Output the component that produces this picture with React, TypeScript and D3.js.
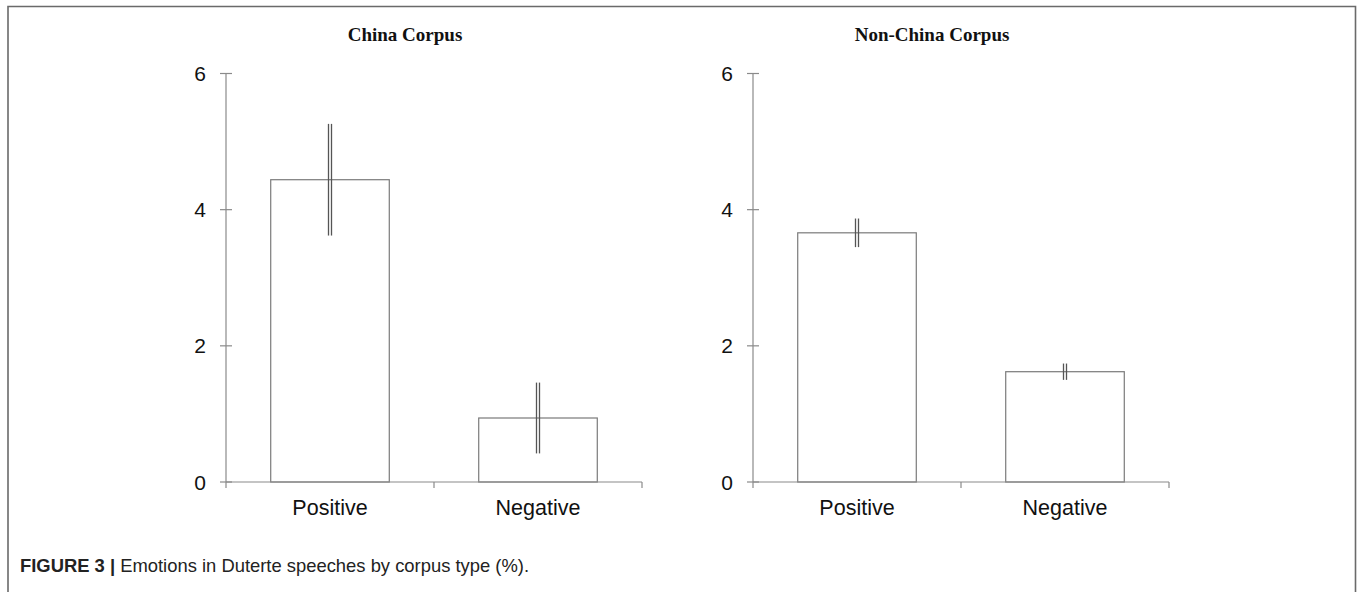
import React from "react";
import * as d3 from "d3";

const panelTitles = ["China Corpus", "Non-China Corpus"];
const categories = ["Positive", "Negative"];
const chinaValues = [4.44, 0.94];
const chinaErrors = [0.82, 0.52];
const nonChinaValues = [3.66, 1.62];
const nonChinaErrors = [0.21, 0.12];
const yTicks = [0, 2, 4, 6];
const captionBold = "FIGURE 3 |";
const captionText = " Emotions in Duterte speeches by corpus type (%).";

const panels = [
  { title: panelTitles[0], values: chinaValues, errors: chinaErrors, x0: 226 },
  { title: panelTitles[1], values: nonChinaValues, errors: nonChinaErrors, x0: 753 },
];

const W = 1360;
const H = 592;
const plotW = 416;
const yTop = 73.5;
const yBottom = 482;

function Panel({ p }: { p: typeof panels[0] }) {
  const x = d3
    .scaleBand<string>()
    .domain(categories)
    .range([0, plotW])
    .paddingInner(0.43)
    .paddingOuter(0.215);
  const y = d3.scaleLinear().domain([0, 6]).range([yBottom, yTop]);
  const axisColor = "#8a8a8a";
  const step = x.step();
  const bounds = [0, step, 2 * step];
  return (
    <g transform={`translate(${p.x0},0)`}>
      <text
        x={179}
        y={41}
        textAnchor="middle"
        fontFamily="'Liberation Serif', serif"
        fontWeight="bold"
        fontSize={19}
        fill="#111"
      >
        {p.title}
      </text>
      {/* y axis */}
      <line x1={0} x2={0} y1={y(6)} y2={y(0)} stroke={axisColor} strokeWidth={1.2} />
      {yTicks.map((t) => (
        <g key={t}>
          <line x1={-6} x2={6} y1={y(t)} y2={y(t)} stroke={axisColor} strokeWidth={1.2} />
          <text
            x={-20}
            y={y(t)}
            dy="0.36em"
            textAnchor="end"
            fontFamily="'Liberation Sans', Arial, sans-serif"
            fontSize={21}
            fill="#111"
          >
            {t}
          </text>
        </g>
      ))}
      {/* bars */}
      {categories.map((c, i) => (
        <rect
          key={c}
          x={x(c)}
          y={y(p.values[i])}
          width={x.bandwidth()}
          height={y(0) - y(p.values[i])}
          fill="white"
          stroke="#7a7a7a"
          strokeWidth={1.2}
        />
      ))}
      {/* x axis */}
      <line x1={0} x2={plotW} y1={y(0)} y2={y(0)} stroke={axisColor} strokeWidth={1.2} />
      {bounds.map((b, i) => (
        <line key={i} x1={b} x2={b} y1={y(0)} y2={y(0) + 6} stroke={axisColor} strokeWidth={1.2} />
      ))}
      {categories.map((c) => (
        <text
          key={c}
          x={(x(c) ?? 0) + x.bandwidth() / 2}
          y={515}
          textAnchor="middle"
          fontFamily="'Liberation Sans', Arial, sans-serif"
          fontSize={21.5}
          fill="#111"
        >
          {c}
        </text>
      ))}
      {/* error bars */}
      {categories.map((c, i) => {
        const cx = (x(c) ?? 0) + x.bandwidth() / 2;
        const hi = y(p.values[i] + p.errors[i]);
        const lo = y(p.values[i] - p.errors[i]);
        return (
          <g key={c}>
            <line x1={cx - 1.5} x2={cx - 1.5} y1={hi} y2={lo} stroke="#555" strokeWidth={1.3} />
            <line x1={cx + 1.5} x2={cx + 1.5} y1={hi} y2={lo} stroke="#555" strokeWidth={1.3} />
          </g>
        );
      })}
    </g>
  );
}

export default function App() {
  return (
    <svg
      width={W}
      height={H}
      style={{ position: "absolute", left: 0, top: 0, background: "white" }}
    >
      <rect x={0} y={0} width={W} height={H} fill="white" />
      <path d={`M8,${H + 5} V6.5 H1355.5 V${H + 5}`} fill="none" stroke="#6a6a6a" strokeWidth={1.6} />
      {panels.map((p) => (
        <Panel key={p.title} p={p} />
      ))}
      <text
        x={20}
        y={572}
        fontFamily="'Liberation Sans', Arial, sans-serif"
        fontSize={18.4}
        fill="#222"
      >
        <tspan fontWeight="bold">{captionBold}</tspan>
        <tspan>{captionText}</tspan>
      </text>
    </svg>
  );
}
